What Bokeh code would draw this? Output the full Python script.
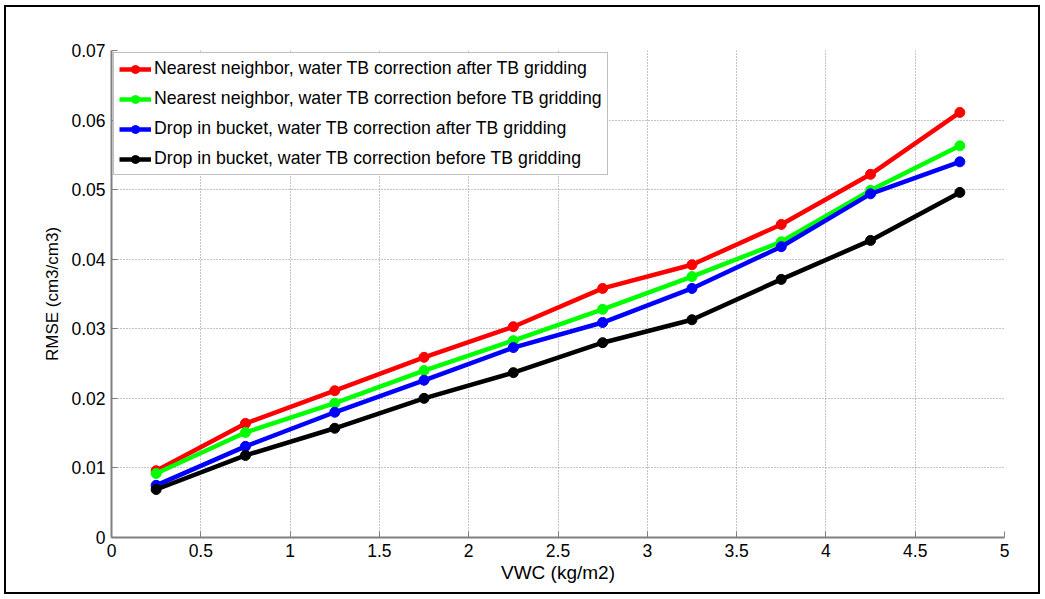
from bokeh.plotting import figure
from bokeh.models import Range1d, FixedTicker, Legend, LegendItem
from bokeh.embed import file_html
from bokeh.resources import INLINE

vwc = [0.25, 0.75, 1.25, 1.75, 2.25, 2.75, 3.25, 3.75, 4.25, 4.75]
nn_after = [0.0096, 0.0164, 0.0211, 0.0259, 0.0303, 0.0358, 0.0392, 0.0450, 0.0522, 0.0611]
nn_before = [0.0092, 0.0151, 0.0193, 0.0240, 0.0283, 0.0328, 0.0375, 0.0425, 0.0499, 0.0563]
dib_after = [0.0075, 0.0131, 0.0180, 0.0226, 0.0273, 0.0309, 0.0358, 0.0418, 0.0494, 0.0540]
dib_before = [0.0069, 0.0118, 0.0157, 0.0200, 0.0237, 0.0280, 0.0313, 0.0371, 0.0427, 0.0496]

series_labels = [
    "Nearest neighbor, water TB correction after TB gridding",
    "Nearest neighbor, water TB correction before TB gridding",
    "Drop in bucket, water TB correction after TB gridding",
    "Drop in bucket, water TB correction before TB gridding",
]
series_colors = ["#ff0000", "#00ff00", "#0000ff", "#000000"]

x_ticks = [0, 0.5, 1, 1.5, 2, 2.5, 3, 3.5, 4, 4.5, 5]
x_tick_labels = ["0", "0.5", "1", "1.5", "2", "2.5", "3", "3.5", "4", "4.5", "5"]
y_ticks = [0, 0.01, 0.02, 0.03, 0.04, 0.05, 0.06, 0.07]
y_tick_labels = ["0", "0.01", "0.02", "0.03", "0.04", "0.05", "0.06", "0.07"]

FONT = "Liberation Sans"
AXIS_GRAY = "#808080"

p = figure(width=1036, height=589, output_backend="svg", toolbar_location=None,
           x_range=Range1d(0, 5), y_range=Range1d(0, 0.07),
           min_border_left=105, min_border_right=38, min_border_top=43, min_border_bottom=59,
           background_fill_color="white", border_fill_color="white",
           styles={"border": "2px solid black", "margin-left": "4px", "margin-top": "5px"})
p.outline_line_color = None

p.xaxis.ticker = FixedTicker(ticks=x_ticks)
p.yaxis.ticker = FixedTicker(ticks=y_ticks)
p.xaxis.major_label_overrides = dict(zip(x_ticks, x_tick_labels))
p.yaxis.major_label_overrides = dict(zip(y_ticks, y_tick_labels))

for ax in (p.xaxis, p.yaxis):
    ax.axis_line_color = AXIS_GRAY
    ax.axis_line_width = 2
    ax.major_tick_line_color = AXIS_GRAY
    ax.major_tick_line_width = 1
    ax.major_tick_in = 6
    ax.major_tick_out = 0
    ax.minor_tick_line_color = None
    ax.major_label_text_font = FONT
    ax.major_label_text_font_size = "17.5px"
    ax.major_label_text_color = "black"
    ax.major_label_standoff = 6
    ax.axis_label_text_font = FONT
    ax.axis_label_text_font_style = "normal"
    ax.axis_label_text_color = "black"

p.xaxis.axis_label = "VWC (kg/m2)"
p.yaxis.axis_label = "RMSE (cm3/cm3)"
p.xaxis.axis_label_text_font_size = "19px"
p.yaxis.axis_label_text_font_size = "17px"
p.xaxis.axis_label_standoff = 2
p.yaxis.axis_label_standoff = 6

p.grid.grid_line_color = "#8a8a8a"
p.grid.grid_line_dash = "1 2"
p.grid.grid_line_width = 1

items = []
for ys, lab, col in zip([nn_after, nn_before, dib_after, dib_before], series_labels, series_colors):
    r1 = p.line(vwc, ys, line_color=col, line_width=4.5)
    r2 = p.scatter(vwc, ys, marker="circle", size=10, fill_color=col, line_color=col)
    items.append(LegendItem(label=lab, renderers=[r1, r2]))

legend = Legend(items=items, location="top_left")
legend.margin = 2
legend.padding = 5
legend.spacing = 9
legend.label_height = 20
legend.glyph_height = 20
legend.glyph_width = 32
legend.label_standoff = 3
legend.label_text_font = FONT
legend.label_text_font_size = "17.7px"
legend.label_text_color = "black"
legend.border_line_color = AXIS_GRAY
legend.border_line_width = 1
legend.background_fill_color = "white"
legend.background_fill_alpha = 1
p.add_layout(legend, "center")

open("out.html", "w").write(file_html(p, INLINE))
